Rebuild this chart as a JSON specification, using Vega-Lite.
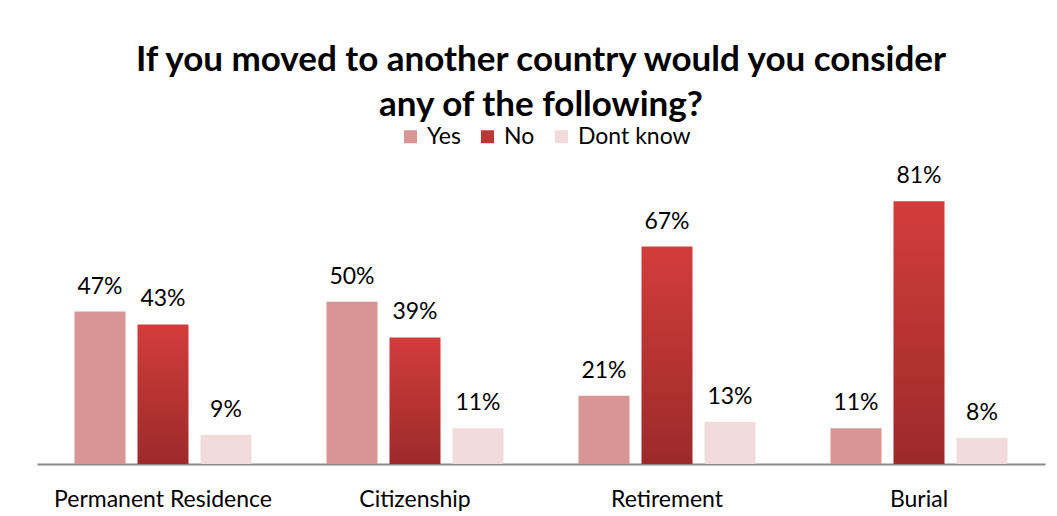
{
  "$schema": "https://vega.github.io/schema/vega-lite/v6.json",
  "width": 1008,
  "height": 292,
  "autosize": {"type": "none"},
  "padding": {"left": 37, "top": 172, "right": 12, "bottom": 52},
  "background": "white",
  "config": {"view": {"stroke": null}},
  "title": {
    "text": ["If you moved to another country would you consider", "any of the following?"],
    "font": "Lato",
    "fontSize": 35,
    "fontWeight": "bold",
    "color": "black",
    "lineHeight": 45,
    "anchor": "middle",
    "offset": 2
  },
  "data": {
    "values": [
      {"question": "Permanent Residence", "answer": "Yes", "value": 0.47},
      {"question": "Permanent Residence", "answer": "No", "value": 0.43},
      {"question": "Permanent Residence", "answer": "Dont know", "value": 0.09},
      {"question": "Citizenship", "answer": "Yes", "value": 0.50},
      {"question": "Citizenship", "answer": "No", "value": 0.39},
      {"question": "Citizenship", "answer": "Dont know", "value": 0.11},
      {"question": "Retirement", "answer": "Yes", "value": 0.21},
      {"question": "Retirement", "answer": "No", "value": 0.67},
      {"question": "Retirement", "answer": "Dont know", "value": 0.13},
      {"question": "Burial", "answer": "Yes", "value": 0.11},
      {"question": "Burial", "answer": "No", "value": 0.81},
      {"question": "Burial", "answer": "Dont know", "value": 0.08}
    ]
  },
  "encoding": {
    "x": {
      "field": "question",
      "type": "nominal",
      "sort": ["Permanent Residence", "Citizenship", "Retirement", "Burial"],
      "scale": {"paddingInner": 0, "paddingOuter": 0},
      "axis": {
        "title": null,
        "labelAngle": 0,
        "labelFont": "Lato",
        "labelFontSize": 23,
        "labelColor": "black",
        "labelPadding": 24,
        "labelLimit": 0,
        "ticks": false,
        "domain": true,
        "domainColor": "#898989",
        "domainWidth": 2,
        "grid": false
      }
    },
    "xOffset": {
      "field": "answer",
      "type": "nominal",
      "sort": ["Yes", "No", "Dont know"],
      "scale": {"domain": ["Yes", "No", "Dont know"], "paddingInner": 0.19, "paddingOuter": 0.595}
    },
    "y": {
      "field": "value",
      "type": "quantitative",
      "scale": {"domain": [0, 0.9]},
      "axis": null
    }
  },
  "layer": [
    {
      "transform": [{"filter": "datum.answer !== 'No'"}],
      "mark": {"type": "bar"},
      "encoding": {
        "color": {
          "field": "answer",
          "type": "nominal",
          "scale": {"domain": ["Yes", "No", "Dont know"], "range": ["#D99594", "#BE3736", "#F2DCDB"]},
          "legend": {
            "title": null,
            "orient": "none",
            "direction": "horizontal",
            "legendX": 362,
            "legendY": -47,
            "symbolType": "square",
            "symbolSize": 169,
            "symbolStrokeWidth": 0,
            "labelFont": "Lato",
            "labelFontSize": 23,
            "labelColor": "black",
            "labelOffset": 5,
            "columnPadding": 15,
            "padding": 0
          }
        }
      }
    },
    {
      "transform": [{"filter": "datum.answer === 'No'"}],
      "mark": {
        "type": "bar",
        "color": {
          "gradient": "linear",
          "x1": 0, "y1": 0, "x2": 0, "y2": 1,
          "stops": [
            {"offset": 0, "color": "#D23D3B"},
            {"offset": 1, "color": "#9C2A2A"}
          ]
        }
      }
    },
    {
      "mark": {"type": "text", "dy": -18, "baseline": "alphabetic", "font": "Lato", "fontSize": 23, "color": "black"},
      "encoding": {
        "text": {"field": "value", "type": "quantitative", "format": ".0%"}
      }
    }
  ]
}
